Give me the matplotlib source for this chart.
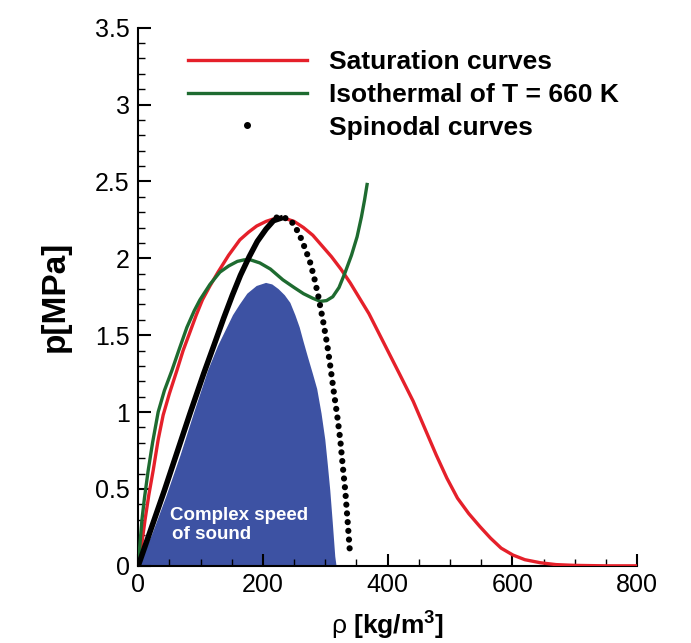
import matplotlib
matplotlib.use('Agg')
import matplotlib.pyplot as plt
from matplotlib.lines import Line2D
from matplotlib.ticker import MultipleLocator

plt.rcParams['font.family'] = ['Liberation Sans', 'DejaVu Sans']
plt.rcParams['mathtext.fontset'] = 'custom'
plt.rcParams['mathtext.rm'] = 'Liberation Sans'
plt.rcParams['mathtext.it'] = 'Liberation Sans'
plt.rcParams['mathtext.bf'] = 'Liberation Sans:bold'

# saturation curve (red)
sat_rho = [0, 3, 6, 11, 17, 24, 32, 40, 50, 62, 72, 83, 93, 103, 115, 128, 145,
           163, 177, 190, 205, 220, 235, 250, 265, 280, 295, 310, 325, 340, 355,
           370, 385, 400, 420, 441, 460, 478, 495, 512, 530, 548, 565, 582, 601,
           620, 645, 670, 700, 750, 800]
sat_p = [0, 0.07, 0.15, 0.3, 0.46, 0.62, 0.82, 0.98, 1.12, 1.27, 1.40, 1.52,
         1.63, 1.73, 1.82, 1.91, 2.02, 2.12, 2.17, 2.21, 2.24, 2.26, 2.26, 2.24,
         2.20, 2.15, 2.08, 2.01, 1.93, 1.84, 1.74, 1.64, 1.52, 1.40, 1.24, 1.07,
         0.89, 0.72, 0.57, 0.44, 0.34, 0.255, 0.18, 0.115, 0.07, 0.04, 0.02,
         0.008, 0.003, 0, 0]

# isothermal T = 660 K (green)
iso_rho = [0, 3, 6, 10, 16, 23, 32, 42, 54, 65, 78, 90, 99, 115, 131, 145, 159,
           170, 180, 195, 212, 232, 250, 265, 280, 292, 302, 312, 322, 332, 342,
           351, 358, 363, 367]
iso_p = [0, 0.15, 0.3, 0.44, 0.62, 0.8, 1.0, 1.14, 1.27, 1.40, 1.55, 1.66, 1.73,
         1.83, 1.91, 1.95, 1.98, 1.99, 1.99, 1.97, 1.93, 1.86, 1.81, 1.77, 1.74,
         1.72, 1.725, 1.75, 1.81, 1.91, 2.02, 2.14, 2.27, 2.38, 2.48]

# spinodal curve, dense left branch and dotted right branch
spl_rho = [0, 42, 83, 105, 122, 137, 151, 164, 178, 191, 205, 217, 228]
spl_p = [0, 0.49, 0.99, 1.25, 1.44, 1.61, 1.76, 1.89, 2.01, 2.11, 2.19, 2.245,
         2.26]
spr_rho = [222, 240, 250, 260, 268, 276, 283, 289, 297, 303, 308, 313, 319, 324,
           328, 332, 336, 340]
spr_p = [2.265, 2.26, 2.22, 2.14, 2.06, 1.97, 1.86, 1.75, 1.58, 1.44, 1.30, 1.15,
         0.98, 0.82, 0.65, 0.49, 0.28, 0.06]

# region of complex speed of sound
cx_rho = [0, 22, 45, 68, 90, 112, 128, 140, 152, 163, 175, 190, 205, 215, 225,
          235, 244, 252, 259, 265, 272, 280, 287, 294, 300, 304, 308, 312, 316, 318]
cx_p = [0, 0.2, 0.45, 0.72, 1.0, 1.27, 1.43, 1.53, 1.63, 1.7, 1.77, 1.82, 1.84,
        1.83, 1.80, 1.76, 1.71, 1.63, 1.55, 1.46, 1.36, 1.25, 1.15, 0.99, 0.82,
        0.66, 0.49, 0.28, 0.06, 0]

red = '#e5202a'
green = '#1e6b30'
blue = '#3d52a3'

fig = plt.figure(figsize=(6.91, 6.43), dpi=100)
ax = fig.add_axes([0.2, 0.12, 0.722, 0.837])

ax.fill(cx_rho, cx_p, color=blue, lw=0, zorder=1)
ax.plot(sat_rho, sat_p, color=red, lw=2.4, zorder=3)
ax.plot(iso_rho, iso_p, color=green, lw=2.4, zorder=3)
ax.plot(spl_rho, spl_p, color='black', lw=4, zorder=4)
ax.plot(spr_rho, spr_p, color='black', lw=4.5, ls=(0, (0.001, 1.4)),
        dash_capstyle='round', zorder=4)

ax.text(51, 0.33, 'Complex speed', color='white', fontsize=13.5,
        fontweight='bold', va='center', zorder=5)
ax.text(55, 0.205, 'of sound', color='white', fontsize=13.5,
        fontweight='bold', va='center', zorder=5)

ax.set_xlim(0, 800)
ax.set_ylim(0, 3.5)
ax.xaxis.set_major_locator(MultipleLocator(200))
ax.xaxis.set_minor_locator(MultipleLocator(50))
ax.yaxis.set_minor_locator(MultipleLocator(0.1))
ax.set_yticks([0, 0.5, 1, 1.5, 2, 2.5, 3, 3.5])
ax.set_yticklabels(['0', '0.5', '1', '1.5', '2', '2.5', '3', '3.5'])

for s in ['top', 'right']:
    ax.spines[s].set_visible(False)
for s in ['left', 'bottom']:
    ax.spines[s].set_linewidth(1.5)

ax.tick_params(which='major', direction='in', length=9, width=1.5, labelsize=18)
ax.tick_params(which='minor', direction='in', length=5, width=1.0)
ax.tick_params(axis='y', which='major', pad=6)
ax.tick_params(axis='x', which='major', pad=5)

ax.set_ylabel('p[MPa]', fontsize=24, fontweight='bold')
ax.yaxis.set_label_coords(-0.136, 0.5)
ax.set_xlabel(r'$\rho$ $\mathbf{[kg/m^3]}$', fontsize=19)
ax.xaxis.set_label_coords(0.5, -0.082)

handles = [Line2D([], [], color=red, lw=2.4),
           Line2D([], [], color=green, lw=2.4),
           Line2D([], [], color='black', ls='none', marker='o', ms=4)]
labels = ['Saturation curves', 'Isothermal of T = 660 K', 'Spinodal curves']
ax.legend(handles, labels, loc='upper left', bbox_to_anchor=(0.1, 0.958),
          frameon=False, borderpad=0, borderaxespad=0, handlelength=4.5,
          handletextpad=0.85, labelspacing=0.33,
          prop={'size': 19, 'weight': 'bold'})

fig.savefig('out.png', dpi=100)
